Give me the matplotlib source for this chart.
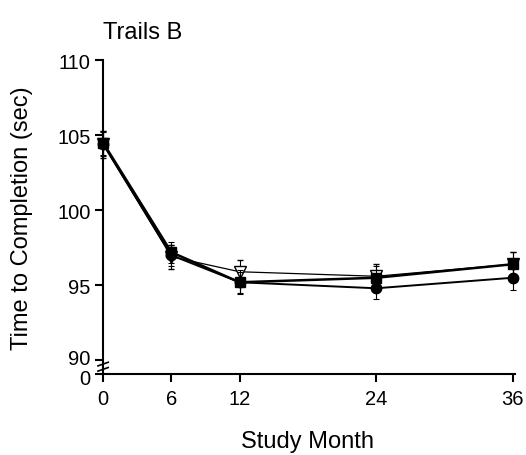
import matplotlib
matplotlib.use("Agg")
import matplotlib.pyplot as plt
from matplotlib.transforms import ScaledTranslation

plt.rcParams['font.family'] = ['Liberation Sans', 'DejaVu Sans']

# study months and group means (sec)
months = [0, 6, 12, 24, 36]
circles = [104.4, 97.0, 95.2, 94.8, 95.5]
squares = [104.5, 97.2, 95.2, 95.5, 96.4]
triangles = [104.4, 96.9, 95.9, 95.6, 96.4]
circles_err = [0.8, 0.7, 0.8, 0.7, 0.8]
squares_err = [0.8, 0.7, 0.7, 0.8, 0.8]
triangles_err = [0.9, 0.8, 0.8, 0.8, 0.8]

# the "0" tick sits just below 90 on a broken axis
y_zero_pos = 89.1
yticks = [y_zero_pos, 90, 95, 100, 105, 110]
ytick_labels = ['0', '90', '95', '100', '105', '110']

fig = plt.figure(figsize=(5.26, 4.56), dpi=100)
ax = fig.add_axes([0.196, 0.178, 0.783, 0.688])

ax.errorbar(months, triangles, yerr=triangles_err, color='black', lw=0.9,
            marker='v', ms=8, mfc='white', mec='black', mew=1.0,
            capsize=2.5, elinewidth=0.8, capthick=0.8, clip_on=False, zorder=3)
ax.errorbar(months, circles, yerr=circles_err, color='black', lw=1.4,
            marker='o', ms=7.5, mfc='black', mec='black',
            capsize=2.5, elinewidth=0.8, capthick=0.8, clip_on=False, zorder=4)
ax.errorbar(months, squares, yerr=squares_err, color='black', lw=1.8,
            marker='s', ms=7.5, mfc='black', mec='black',
            capsize=2.5, elinewidth=0.8, capthick=0.8, clip_on=False, zorder=5)

ax.set_xlim(0, 36.2)
ax.set_ylim(y_zero_pos, 110)
ax.set_xticks(months)
ax.set_yticks(yticks)
ax.set_yticklabels(ytick_labels)

for s in ['top', 'right']:
    ax.spines[s].set_visible(False)
for s in ['left', 'bottom']:
    ax.spines[s].set_linewidth(1.5)
ax.tick_params(axis='both', direction='out', length=6, width=1.5,
               labelsize=14.5, pad=3)
ax.tick_params(axis='x', pad=5)

# nudge the stacked "0" and "90" labels apart a little
ylabels = ax.get_yticklabels()
ylabels[0].set_transform(ylabels[0].get_transform() + ScaledTranslation(0, -2 / 72, fig.dpi_scale_trans))
ylabels[1].set_transform(ylabels[1].get_transform() + ScaledTranslation(0, 3 / 72, fig.dpi_scale_trans))

# axis break marks between 90 and 0
for dy in (0.3, 0.65):
    ax.plot([-0.45, 0.45], [y_zero_pos + dy - 0.12, y_zero_pos + dy + 0.12],
            color='black', lw=1.2, clip_on=False, zorder=6)

ax.set_xlabel('Study Month', fontsize=17)
ax.xaxis.set_label_coords(0.497, -0.18)
ax.set_ylabel('Time to Completion (sec)', fontsize=17)
ax.yaxis.set_label_coords(-0.17, 0.5)
fig.text(103 / 526, 1 - 33 / 456, 'Trails B', fontsize=17, ha='left', va='center')

fig.savefig('out.png', dpi=100)
